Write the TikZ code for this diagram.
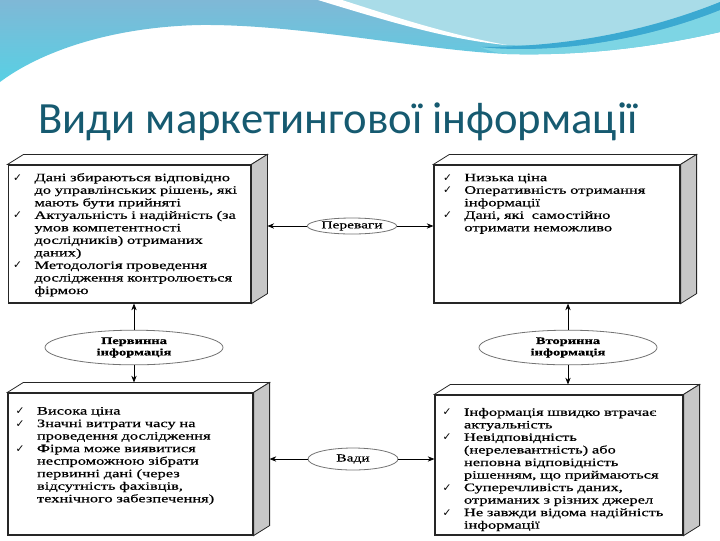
\documentclass[tikz,border=0pt]{standalone}
\usepackage{fontspec}
\setmainfont{Liberation Serif}
\newfontfamily\boxfont[FakeStretch=1.45,FakeBold=0.6]{Liberation Serif}
\newfontfamily\titlefont{Carlito}
\newfontfamily\chkfont{DejaVu Sans}
\usepackage{xcolor}
\usepackage{tikz}
\usetikzlibrary{arrows.meta,positioning,shapes,calc}

\definecolor{ttlblue}{HTML}{165A70}
\definecolor{skyA}{HTML}{7FB8D6}
\definecolor{skyB}{HTML}{58D0E4}
\definecolor{skyC}{HTML}{A9DCE8}
\definecolor{skyD}{HTML}{3BA9D1}
\definecolor{skyE}{HTML}{7DD5E4}

\newlength\itmind
\setlength\itmind{15pt}
\newcommand\itm{\par\noindent\hangindent=\itmind\hangafter=1%
  \hbox to\itmind{\hskip-1pt\chkfont\fontsize{8pt}{8pt}\selectfont ✓\hfil}}
\newcommand\full[2]{\makebox[#1][s]{#2}}

\begin{document}
\begin{tikzpicture}[
  x=0.75pt, y=-0.75pt, >={Stealth[length=5pt,width=4pt]},
  slab/.style={draw=black!85, line width=0.9pt, fill=white, inner sep=0pt},
  side/.style={draw=black!85, line width=0.6pt, fill=black!22},
  lid/.style={draw=black!85, line width=0.6pt, fill=white},
  lst/.style={anchor=north west, inner sep=0pt, text width=240pt,
    font=\boxfont\fontsize{8.5pt}{9.4pt}\selectfont},
  oval/.style={ellipse, draw=black!55, fill=white, inner sep=0pt, line width=0.6pt,
    font=\boxfont\fontsize{8pt}{8.6pt}\selectfont},
  link/.style={->, line width=0.6pt},
]
\useasboundingbox (0,0) rectangle (720,540);

\shade[top color=skyA, bottom color=skyB] (0,0) -- (720,0) -- (720,32)
  .. controls (650,48) and (580,56) .. (507,54)
  .. controls (420,50) and (300,24) .. (200,25)
  .. controls (110,27) and (40,52) .. (0,82) -- cycle;
\fill[skyE] (480,47) .. controls (560,55) and (650,38) .. (720,10) -- (720,32)
  .. controls (650,48) and (580,56) .. (507,54) .. controls (495,53) and (487,50) .. (480,47) -- cycle;
\fill[skyC] (330,0) .. controls (400,22) and (460,40) .. (505,45)
  .. controls (590,48) and (660,28) .. (720,2) -- (720,0) -- cycle;
\fill[white] (318,0) .. controls (390,22) and (450,40) .. (507,45)
  .. controls (450,35) and (395,17) .. (342,0) -- cycle;
\fill[skyD] (480,47) .. controls (560,55) and (650,38) .. (720,10) -- (720,2)
  .. controls (650,30) and (570,47) .. (480,47) -- cycle;

\node[anchor=base west, inner sep=0pt, text=ttlblue,
  font=\titlefont\fontsize{33.5pt}{40pt}\selectfont] (ttl) at (38,133) {Види маркетингової інформації};

\node[slab, minimum width=182pt, minimum height=103.5pt] (pa) at (129.5,234) {};
\node[slab, minimum width=184.5pt, minimum height=103.5pt] (sa) at (557,234) {};
\node[slab, minimum width=183.75pt, minimum height=106.5pt] (pd) at (130.5,464) {};
\node[slab, minimum width=186pt, minimum height=105pt] (sd) at (559,465) {};

\foreach \b in {pa,sa,pd,sd} {
  \draw[lid] (\b.north west) -- ++(12pt,7.5pt) -- ($(\b.north east)+(12pt,7.5pt)$) -- (\b.north east) -- cycle;
  \draw[side] (\b.north east) -- ++(12pt,7.5pt) -- ($(\b.south east)+(12pt,7.5pt)$) -- (\b.south east) -- cycle;
  \coordinate (\b-back) at ($(\b.north)+(6pt,7.5pt)$);
  \coordinate (\b-edge) at ($(\b.east)+(12pt,0pt)$);
}

\node[lst] (pa-txt) at ($(pa.north west)+(5pt,-3pt)$) {%
  \itm \full{161pt}{Дані збираються відповідно}\newline \full{161pt}{до управлінських рішень, які}\newline мають бути прийняті
  \itm Актуальність і надійність (за\newline умов компетентності\newline дослідників) отриманих\newline даних)
  \itm Методологія проведення\newline дослідження контролюється\newline фірмою\par};
\node[lst] (sa-txt) at ($(sa.north west)+(8pt,-3pt)$) {%
  \itm Низька ціна
  \itm Оперативність отримання\newline інформації
  \itm Дані, які\ \ самостійно\newline отримати неможливо\par};
\node[lst] (pd-txt) at ($(pd.north west)+(7pt,-7pt)$) {%
  \itm Висока ціна
  \itm Значні витрати часу на\newline проведення дослідження
  \itm Фірма може виявитися\newline неспроможною зібрати\newline первинні дані (через\newline відсутність фахівців,\newline технічного забезпечення)\par};
\node[lst] (sd-txt) at ($(sd.north west)+(7pt,-6.5pt)$) {%
  \itm \full{154pt}{Інформація швидко втрачає}\newline актуальність
  \itm Невідповідність\newline (нерелевантність) або\newline неповна відповідність\newline рішенням, що приймаються
  \itm Суперечливість даних,\newline отриманих з різних джерел
  \itm Не завжди відома надійність\newline інформації\par};

\node[oval, minimum width=67pt, minimum height=12pt] (adv) at (352,226) {Переваги};
\node[oval, minimum width=67.5pt, minimum height=16.5pt] (dis) at (353,459) {Вади};
\node[oval, minimum width=133.5pt, minimum height=26pt, align=center,
  font=\boxfont\bfseries\fontsize{7.5pt}{8.6pt}\selectfont] (pinf) at (134,347.5) {Первинна\\інформація};
\node[oval, minimum width=133.5pt, minimum height=26pt, align=center,
  font=\boxfont\bfseries\fontsize{7.5pt}{8.6pt}\selectfont] (sinf) at (568,347.5) {Вторинна\\інформація};

\draw[link] (adv.west) -- (adv.west -| pa-edge);
\draw[link] (adv.east) -- (adv.east -| sa.west);
\draw[link] (dis.west) -- (dis.west -| pd-edge);
\draw[link] (dis.east) -- (dis.east -| sd.west);
\draw[link] (pinf.north) -- (pinf.north |- pa.south);
\draw[link] (pinf.south) -- (pinf.south |- pd-back);
\draw[link] (sinf.north) -- (sinf.north |- sa.south);
\draw[link] (sinf.south) -- (sinf.south |- sd-back);
\end{tikzpicture}
\end{document}
